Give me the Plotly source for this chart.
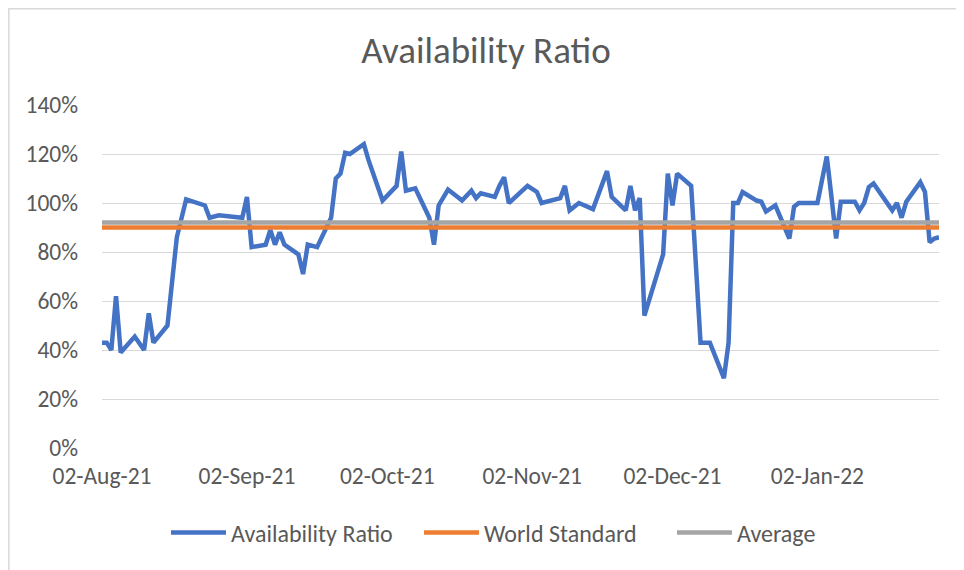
import plotly.graph_objects as go

dates = [
    "2021-08-02", "2021-08-03", "2021-08-04", "2021-08-05", "2021-08-06", "2021-08-09",
    "2021-08-11", "2021-08-12", "2021-08-13", "2021-08-16", "2021-08-18", "2021-08-20",
    "2021-08-24", "2021-08-25", "2021-08-27", "2021-09-01", "2021-09-02", "2021-09-03",
    "2021-09-06", "2021-09-07", "2021-09-08", "2021-09-09", "2021-09-10", "2021-09-13",
    "2021-09-14", "2021-09-15", "2021-09-17", "2021-09-19", "2021-09-20", "2021-09-21",
    "2021-09-22", "2021-09-23", "2021-09-24", "2021-09-27", "2021-09-28", "2021-10-01",
    "2021-10-04", "2021-10-05", "2021-10-06", "2021-10-08", "2021-10-11", "2021-10-12",
    "2021-10-13", "2021-10-15", "2021-10-18", "2021-10-20", "2021-10-21", "2021-10-22",
    "2021-10-25", "2021-10-26", "2021-10-27", "2021-10-28", "2021-11-01", "2021-11-03",
    "2021-11-04", "2021-11-08", "2021-11-09", "2021-11-10", "2021-11-12", "2021-11-15",
    "2021-11-16", "2021-11-18", "2021-11-19", "2021-11-22", "2021-11-23", "2021-11-24",
    "2021-11-25", "2021-11-26", "2021-11-30", "2021-12-01", "2021-12-02", "2021-12-03",
    "2021-12-06", "2021-12-08", "2021-12-10", "2021-12-13", "2021-12-14", "2021-12-15",
    "2021-12-16", "2021-12-17", "2021-12-20", "2021-12-21", "2021-12-22", "2021-12-24",
    "2021-12-26", "2021-12-27", "2021-12-28", "2021-12-29", "2022-01-02", "2022-01-04",
    "2022-01-05", "2022-01-06", "2022-01-07", "2022-01-10", "2022-01-11", "2022-01-12",
    "2022-01-13", "2022-01-14", "2022-01-18", "2022-01-19", "2022-01-20", "2022-01-21",
    "2022-01-24", "2022-01-25", "2022-01-26", "2022-01-27", "2022-01-28",
]

availability = [
    0.43, 0.43, 0.40, 0.62, 0.39, 0.455,
    0.40, 0.55, 0.43, 0.50, 0.86, 1.015,
    0.99, 0.94, 0.95, 0.94, 1.025, 0.82,
    0.83, 0.89, 0.83, 0.88, 0.83, 0.79,
    0.71, 0.83, 0.82, 0.895, 0.94, 1.10,
    1.12, 1.205, 1.20, 1.24, 1.175, 1.01,
    1.07, 1.21, 1.05, 1.06, 0.94, 0.83,
    0.99, 1.055, 1.01, 1.05, 1.02, 1.04,
    1.025, 1.07, 1.105, 1.00, 1.07, 1.045,
    1.00, 1.02, 1.07, 0.97, 1.00, 0.975,
    1.025, 1.13, 1.025, 0.97, 1.07, 0.97,
    1.02, 0.54, 0.79, 1.12, 0.99, 1.12,
    1.07, 0.43, 0.43, 0.285, 0.43, 1.00,
    1.00, 1.045, 1.01, 1.005, 0.965, 0.99,
    0.90, 0.855, 0.985, 1.00, 1.00, 1.19,
    1.025, 0.855, 1.005, 1.005, 0.97, 1.00,
    1.065, 1.08, 0.97, 1.00, 0.94, 1.005,
    1.085, 1.045, 0.84, 0.855, 0.86,
]

world_standard_value = 0.90
average_value = 0.92

tick_dates = ["2021-08-02", "2021-09-02", "2021-10-02", "2021-11-02", "2021-12-02", "2022-01-02"]
tick_labels = ["02-Aug-21", "02-Sep-21", "02-Oct-21", "02-Nov-21", "02-Dec-21", "02-Jan-22"]

FONT = "Carlito, Calibri, 'Liberation Sans Narrow', sans-serif"
TXT = "#595959"

fig = go.Figure()
fig.add_trace(go.Scatter(
    x=dates, y=availability, mode="lines", name="Availability Ratio",
    line=dict(color="#4472C4", width=4.5, shape="linear"),
))
fig.add_trace(go.Scatter(
    x=dates, y=[world_standard_value] * len(dates), mode="lines", name="World Standard",
    line=dict(color="#ED7D31", width=4.5),
))
fig.add_trace(go.Scatter(
    x=dates, y=[average_value] * len(dates), mode="lines", name="Average",
    line=dict(color="#A5A5A5", width=4.5),
))

# page has an 8px body margin; figure coordinates = page coordinates - 8
OFF = 8
W, H = 964 - OFF, 570 - OFF
L, R, T, B = 102 - OFF, 964 - 939, 105 - OFF, 570 - 448
pw = W - L - R
ph = H - T - B


def px_x(p):
    return (p - OFF - L) / pw


def px_y(p):
    return (H - B - (p - OFF)) / ph


fig.update_layout(
    width=W, height=H,
    margin=dict(l=L, r=R, t=T, b=B, autoexpand=False),
    paper_bgcolor="white", plot_bgcolor="white",
    font=dict(family=FONT, color=TXT, size=23),
    title=dict(text="Availability Ratio", x=0.5, xref="container", xanchor="center",
               y=1 - (50 - OFF) / H, yanchor="middle",
               font=dict(family=FONT, size=37, color=TXT)),
    showlegend=True,
    legend=dict(orientation="h", x=px_x(166), xref="paper", xanchor="left",
                y=px_y(533), yanchor="middle", itemwidth=55,
                entrywidth=183, entrywidthmode="pixels",
                font=dict(family=FONT, size=24, color=TXT),
                traceorder="normal"),
    xaxis=dict(
        type="date", range=["2021-08-02", "2022-01-28"],
        tickvals=tick_dates, ticktext=tick_labels,
        showgrid=False, zeroline=False, showline=False, ticks="",
        ticklabelstandoff=11,
        tickfont=dict(family=FONT, size=23.5, color=TXT),
    ),
    yaxis=dict(
        range=[0, 1.4], dtick=0.2, tick0=0, tickformat=".0%",
        showgrid=True, gridcolor="#D9D9D9", gridwidth=1.3,
        zeroline=False, showline=False, ticks="",
        ticklabelstandoff=23,
        tickfont=dict(family=FONT, size=23.5, color=TXT),
    ),
    shapes=[dict(type="rect", xref="paper", yref="paper",
                 x0=px_x(8.8), x1=px_x(990), y0=px_y(600), y1=px_y(8.8),
                 line=dict(color="#D9D9D9", width=1.5), fillcolor="rgba(0,0,0,0)",
                 layer="below")],
)

fig.write_html("out.html")
